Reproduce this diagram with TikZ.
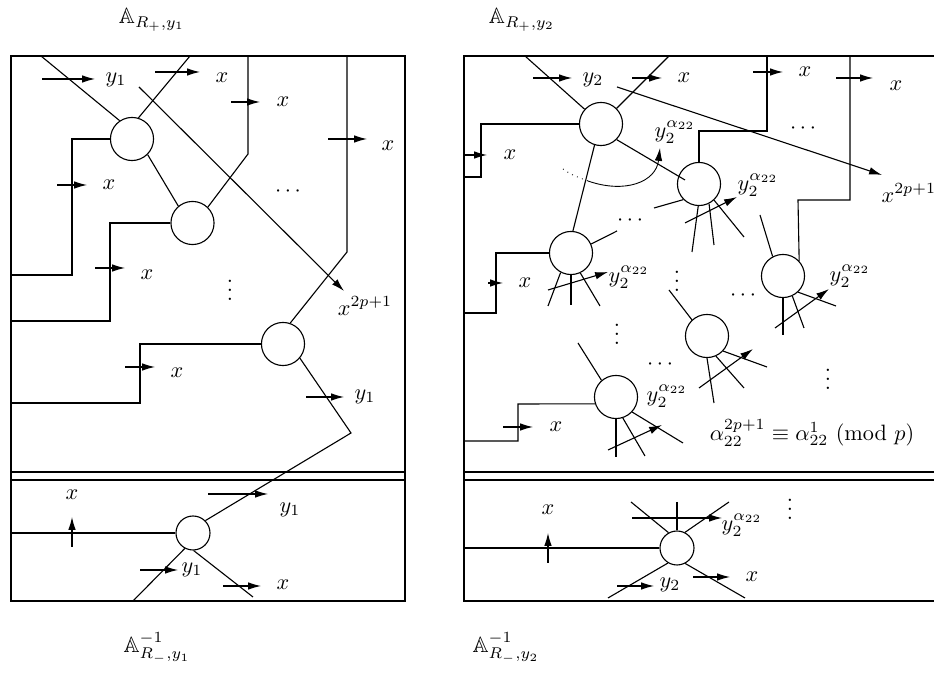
\documentclass[tikz,border=0pt]{standalone}
\usepackage{amssymb}
\usetikzlibrary{arrows.meta}
\begin{document}
\begin{tikzpicture}[x=0.45pt,y=-0.45pt,line width=0.5pt,
  bigc/.style={circle,draw,minimum size=19.4pt,inner sep=0pt},
  smallc/.style={circle,draw,minimum size=15.3pt,inner sep=0pt},
  arr/.style={-{Latex[length=5.8pt,width=3.4pt]}},
  lab/.style={inner sep=0.5pt}]
\useasboundingbox (0,0) rectangle (934,674);
\clip (0,0) rectangle (934,674);
% titles
\node[lab] (t1) at (152,20) {$\mathbb{A}_{R_+,y_1}$};
\node[lab] (t2) at (522,20) {$\mathbb{A}_{R_+,y_2}$};
\node[lab] (t3) at (157,648) {$\mathbb{A}^{-1}_{R_-,y_1}$};
\node[lab] (t4) at (506,648) {$\mathbb{A}^{-1}_{R_-,y_2}$};
% ===== left panel =====
\draw (11,56) rectangle (405,601);
\draw (11,472) -- (405,472);
\draw (11,480) -- (405,480);
\node[bigc] (c1) at (132,139) {};
\node[bigc] (c2) at (192.5,223) {};
\node[bigc] (c3) at (283,344) {};
\node[smallc] (c4) at (193,533) {};
\draw (c1.west) -- (72,139) -- (72,275) -- (11,275);
\draw (c2.west) -- (110,223) -- (110,321) -- (11,321);
\draw (c3.west) -- (140,344) -- (140,403) -- (11,403);
\draw (c4.west) -- (11,533);
\draw (248,56) -- (248,154) -- (c2.46);
\draw (347,56) -- (347,252) -- (c3.71);
\draw (41,56) -- (c1.124);
\draw (c1.73) -- (190,56);
\draw (c1.-45) -- (c2.130);
\coordinate (k1) at (351,433);
\draw (c3.-40) -- (k1) -- (c4.45);
\draw (c4.242) -- (133,601);
\draw (c4.-88) -- (253,597);
\draw[arr] (139,87) -- (344,291);
\draw[arr] (42,79) -- (95,79);
\draw[arr] (155,72) -- (200,72);
\draw[arr] (231,102) -- (260,102);
\draw[arr] (328,139) -- (367,139);
\draw[arr] (57,185) -- (87,185);
\draw[arr] (95,268) -- (125,268);
\draw[arr] (125,367) -- (155,367);
\draw[arr] (306,397) -- (344,397);
\draw[arr] (72,547) -- (72,517);
\draw[arr] (208,494) -- (268,494);
\draw[arr] (140,570) -- (178,570);
\draw[arr] (223,586) -- (261,586);
\node[lab] (l1) at (116,80) {$y_1$};
\node[lab] (l2) at (222,78) {$x$};
\node[lab] (l3) at (283,102) {$x$};
\node[lab] (l4) at (388,146) {$x$};
\node[lab] (l5) at (109,185) {$x$};
\node[lab] (l6) at (288,192) {$\cdots$};
\node[lab] (l7) at (147,275) {$x$};
\node[lab] (l8) at (230,284) {$\vdots$};
\node[lab] (l9) at (365,306) {$x^{2p+1}$};
\node[lab] (l10) at (177,373) {$x$};
\node[lab] (l11) at (365,397) {$y_1$};
\node[lab] (l12) at (72,495) {$x$};
\node[lab] (l13) at (290,510) {$y_1$};
\node[lab] (l14) at (192,570) {$y_1$};
\node[lab] (l15) at (283,585) {$x$};
% ===== right panel =====
\draw (464,56) rectangle (960,601);
\draw (464,472) -- (960,472);
\draw (464,480) -- (960,480);
\node[bigc] (r1) at (601,124) {};
\node[bigc] (r2) at (699,184) {};
\node[bigc] (r3) at (571,253) {};
\node[bigc] (r5) at (783,276) {};
\node[bigc] (r4) at (707,336) {};
\node[bigc] (r6) at (616,397) {};
\node[smallc] (r7) at (677,548) {};
\draw (525,56) -- (r1.138);
\draw (r1.45) -- (669,56);
\draw (r1.west) -- (481,124) -- (481,177) -- (464,177);
\draw (767,56) -- (767,131) -- (699,131) -- (r2.north);
\draw (850,56) -- (850,200) -- (798,200) -- (r5.43);
\coordinate (k2) at (685,180);
\draw (r1.-45) -- (k2);
\draw (r1.253) -- (r3.85);
\draw (r2.225) -- (654,208);
\draw (r2.-92) -- (692,252);
\draw (r2.-63) -- (714,245);
\draw (r2.-47) -- (744,237);
\draw (760,215) -- (r5.118);
\draw (r3.west) -- (496,253) -- (496,313) -- (464,313);
\draw (r3.24) -- (617,231);
\draw (r3.242) -- (548,306);
\draw (r3.-90) -- (571,305);
\draw (r3.-65) -- (600,306);
\draw (r5.-90) -- (783,335);
\draw (r5.-65) -- (804,328);
\draw (r5.-47) -- (836,306);
\draw (669,290) -- (r4.133);
\draw (r4.-43) -- (767,367);
\draw (r4.-66) -- (744,388);
\draw (r4.-90) -- (714,403);
\draw (578,343) -- (r6.131);
\draw (r6.198) -- (518,404) -- (518,441) -- (464,441);
\draw (r6.-90) -- (616,457);
\draw (r6.-72) -- (645,456);
\draw (r6.-43) -- (683,443);
\draw (631,502) -- (r7.119);
\draw (677,502) -- (r7.north);
\draw (r7.63) -- (729,502);
\draw (r7.west) -- (464,548);
\draw (r7.239) -- (608,598);
\draw (r7.-62) -- (745,598);
\draw[arr] (533,78) -- (572,78);
\draw[arr] (632,78) -- (662,78);
\draw[arr] (753,72) -- (783,72);
\draw[arr] (836,78) -- (873,78);
\draw[arr] (617,87) -- (882,175);
\draw[arr] (465,155) -- (487,155);
\draw[arr] (685,223) -- (737,197);
\draw[arr] (488,283) -- (503,283);
\draw[arr] (548,290) -- (608,272);
\draw[arr] (775,328) -- (829,289);
\draw[arr] (699,388) -- (753,349);
\draw[arr] (503,427) -- (533,427);
\draw[arr] (608,450) -- (662,425);
\draw[arr] (548,563) -- (548,533);
\draw[arr] (632,518) -- (722,518);
\draw[arr] (617,586) -- (654,586);
\draw[arr] (693,577) -- (730,577);
% curved arrow
\draw[dotted,line width=0.4pt] (563,169) .. controls (572,175) .. (588,181);
\draw[arr,line width=0.4pt] (588,181) .. controls (625,194) and (656,182) .. (660,148);
\node[lab] (m1) at (593,80) {$y_2$};
\node[lab] (m2) at (684,78) {$x$};
\node[lab] (m3) at (805,72) {$x$};
\node[lab] (m4) at (896,86) {$x$};
\node[lab,anchor=west] (m5) at (880,193) {$x^{2p+1}$};
\node[lab] (m6) at (510,155) {$x$};
\node[lab] (m7) at (803,129) {$\cdots$};
\node[lab] (m8) at (675,132) {$y_2^{\alpha_{22}}$};
\node[lab] (m9) at (758,185) {$y_2^{\alpha_{22}}$};
\node[lab] (m10) at (630,221) {$\cdots$};
\node[lab] (m11) at (525,283) {$x$};
\node[lab] (m12) at (629,277) {$y_2^{\alpha_{22}}$};
\node[lab] (m13) at (677,275) {$\vdots$};
\node[lab] (m14) at (850,276) {$y_2^{\alpha_{22}}$};
\node[lab] (m15) at (743,296) {$\cdots$};
\node[lab] (m16) at (617,328) {$\vdots$};
\node[lab] (m17) at (660,365) {$\cdots$};
\node[lab] (m18) at (828,373) {$\vdots$};
\node[lab] (m19) at (667,396) {$y_2^{\alpha_{22}}$};
\node[lab] (m20) at (556,427) {$x$};
\node[lab] (m21) at (812,433) {$\alpha_{22}^{2p+1}\equiv\alpha_{22}^{1}\ (\mathrm{mod}\ p)$};
\node[lab] (m22) at (790,503) {$\vdots$};
\node[lab] (m23) at (548,510) {$x$};
\node[lab] (m24) at (742,525) {$y_2^{\alpha_{22}}$};
\node[lab] (m25) at (670,585) {$y_2$};
\node[lab] (m26) at (752,577) {$x$};
\end{tikzpicture}
\end{document}
